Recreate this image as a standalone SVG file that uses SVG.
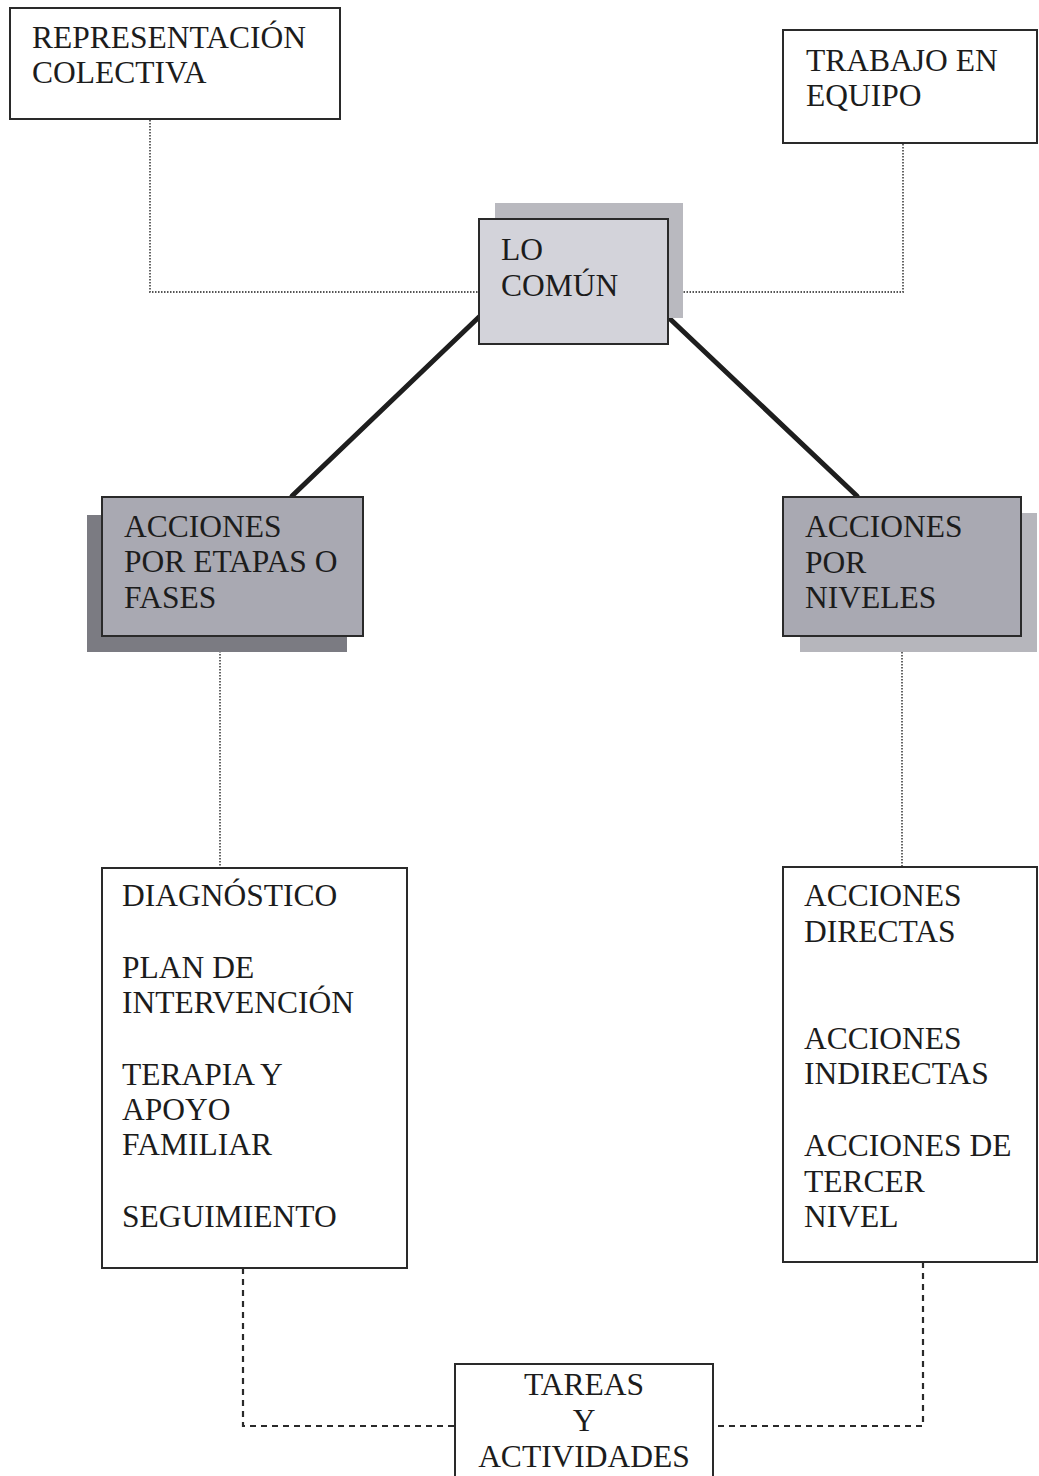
<svg xmlns="http://www.w3.org/2000/svg" width="1039" height="1476" viewBox="0 0 1039 1476">
  <style>
    .box { fill: #ffffff; stroke: #2a2a2a; stroke-width: 2; }
    .grey { fill: #d3d3da; stroke: #2a2a2a; stroke-width: 2; }
    .mid { fill: #a9a9b2; stroke: #2a2a2a; stroke-width: 2; }
    .txt { font-family: "Liberation Serif", "Times New Roman", serif; font-size: 31.5px; fill: #1c1c1c; }
    .dot { fill: none; stroke: #555555; stroke-width: 1.8; stroke-dasharray: 1.5 1.5; }
    .dash { fill: none; stroke: #2a2a2a; stroke-width: 2.2; stroke-dasharray: 6 5; }
    .thick { fill: none; stroke: #1e1e1e; stroke-width: 5; stroke-linecap: round; }
  </style>
  <rect width="1039" height="1476" fill="#ffffff"/>

  <!-- connectors -->
  <g id="connectors">
    <polyline class="dot" points="150,120 150,292 479,292"/>
    <polyline class="dot" points="903,144 903,292 668,292"/>
    <line class="thick" x1="479" y1="317" x2="292" y2="496"/>
    <line class="thick" x1="668" y1="317" x2="857" y2="496"/>
    <line class="dot" x1="220" y1="651" x2="220" y2="867"/>
    <line class="dot" x1="902" y1="652" x2="902" y2="867"/>
    <polyline class="dash" points="243,1268 243,1426 455,1426"/>
    <polyline class="dash" points="923,1262 923,1426 713,1426"/>
  </g>

  <!-- top-left node -->
  <g id="representacion">
    <rect class="box" x="10" y="8" width="330" height="111"/>
    <text class="txt" x="32" y="48">REPRESENTACIÓN</text>
    <text class="txt" x="32" y="83">COLECTIVA</text>
  </g>

  <!-- top-right node -->
  <g id="trabajo">
    <rect class="box" x="783" y="30" width="254" height="113"/>
    <text class="txt" x="806" y="71">TRABAJO EN</text>
    <text class="txt" x="806" y="106">EQUIPO</text>
  </g>

  <!-- central node with shadow -->
  <g id="lo-comun">
    <rect x="495" y="203" width="188" height="115" fill="#b9b9bf"/>
    <rect class="grey" x="479" y="219" width="189" height="125"/>
    <text class="txt" x="501" y="260">LO</text>
    <text class="txt" x="501" y="296">COMÚN</text>
  </g>

  <!-- left branch node -->
  <g id="etapas">
    <rect x="87" y="515" width="260" height="137" fill="#7b7b82"/>
    <rect class="mid" x="102" y="497" width="261" height="139"/>
    <text class="txt" x="124" y="537">ACCIONES</text>
    <text class="txt" x="124" y="572">POR ETAPAS O</text>
    <text class="txt" x="124" y="608">FASES</text>
  </g>

  <!-- right branch node -->
  <g id="niveles">
    <rect x="800" y="513" width="237" height="139" fill="#b6b6bc"/>
    <rect class="mid" x="783" y="497" width="238" height="139"/>
    <text class="txt" x="805" y="537">ACCIONES</text>
    <text class="txt" x="805" y="573">POR</text>
    <text class="txt" x="805" y="608">NIVELES</text>
  </g>

  <!-- left list -->
  <g id="fases-lista">
    <rect class="box" x="102" y="868" width="305" height="400"/>
    <text class="txt" x="122" y="906">DIAGNÓSTICO</text>
    <text class="txt" x="122" y="978">PLAN DE</text>
    <text class="txt" x="122" y="1013">INTERVENCIÓN</text>
    <text class="txt" x="122" y="1085">TERAPIA Y</text>
    <text class="txt" x="122" y="1120">APOYO</text>
    <text class="txt" x="122" y="1155">FAMILIAR</text>
    <text class="txt" x="122" y="1227">SEGUIMIENTO</text>
  </g>

  <!-- right list -->
  <g id="niveles-lista">
    <rect class="box" x="783" y="867" width="254" height="395"/>
    <text class="txt" x="804" y="906">ACCIONES</text>
    <text class="txt" x="804" y="942">DIRECTAS</text>
    <text class="txt" x="804" y="1049">ACCIONES</text>
    <text class="txt" x="804" y="1084">INDIRECTAS</text>
    <text class="txt" x="804" y="1156">ACCIONES DE</text>
    <text class="txt" x="804" y="1192">TERCER</text>
    <text class="txt" x="804" y="1227">NIVEL</text>
  </g>

  <!-- bottom node -->
  <g id="tareas">
    <rect class="box" x="455" y="1364" width="258" height="130"/>
    <text class="txt" x="584" y="1395" text-anchor="middle">TAREAS</text>
    <text class="txt" x="584" y="1431" text-anchor="middle">Y</text>
    <text class="txt" x="584" y="1467" text-anchor="middle">ACTIVIDADES</text>
  </g>
</svg>
